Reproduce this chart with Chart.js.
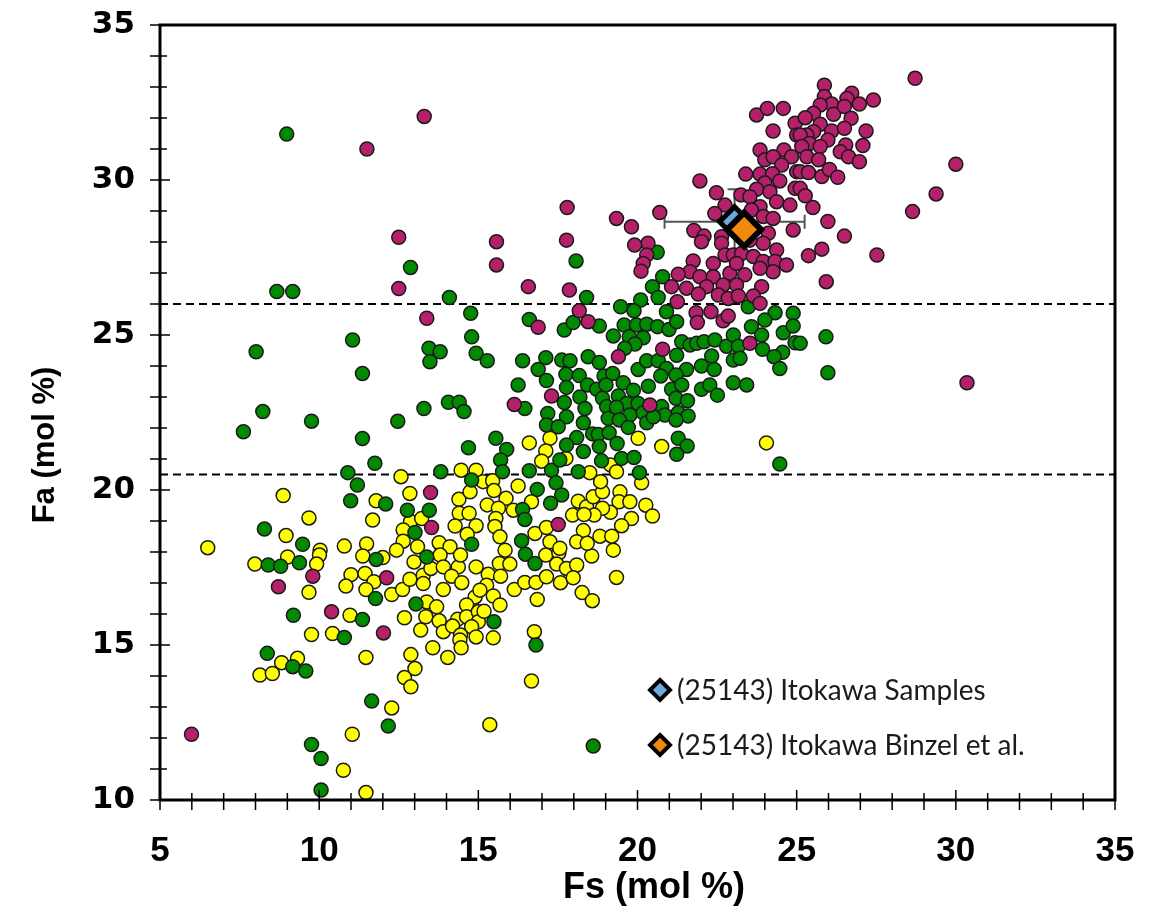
<!DOCTYPE html>
<html>
<head>
<meta charset="utf-8">
<script src="https://cdn.jsdelivr.net/npm/chart.js@4.4.0/dist/chart.umd.min.js"></script>
<style>
  body { margin: 0; background: #fff; }
  canvas { display: block; }
</style>
</head>
<body>
<canvas id="olivineChart" width="1153" height="912"></canvas>
<script>
// Fs (x) vs Fa (y), mol %
const hGroup = [
  [11.5, 31.0], [13.3, 32.05], [12.5, 28.15], [12.5, 26.5], [13.38, 25.54], [13.5, 19.92], [13.53, 18.79],
  [9.8, 17.22], [8.72, 16.88], [10.39, 16.07], [12.02, 15.39], [5.99, 12.12], [12.12, 17.17],
  [23.74, 32.1], [24.08, 32.31], [24.58, 32.31], [24.26, 31.58], [24.95, 31.83], [25.0, 31.45], [23.85, 30.97],
  [24.6, 30.97], [24.84, 30.75], [24.0, 30.65], [24.26, 30.75], [24.53, 30.48], [25.0, 30.27], [23.4, 30.19],
  [23.85, 30.19], [24.24, 30.2], [24.47, 29.97], [24.0, 29.9], [21.96, 29.97], [22.48, 29.59], [23.25, 29.52],
  [23.74, 29.7], [24.16, 29.62], [24.37, 29.3], [24.79, 29.19], [24.95, 29.73], [23.53, 29.46], [23.85, 29.14],
  [22.75, 29.19], [22.43, 28.92], [23.58, 29.03], [23.95, 28.82], [24.26, 28.76], [24.89, 28.39], [20.7, 28.95],
  [17.79, 29.11], [19.34, 28.76], [19.81, 28.49], [21.77, 28.37], [22.09, 28.19], [22.01, 28.01], [22.64, 28.17],
  [22.64, 27.96], [24.11, 28.28], [23.95, 27.96], [24.37, 27.74], [23.53, 28.06], [20.33, 27.96], [19.91, 27.9],
  [20.29, 27.58], [20.18, 27.31], [20.11, 27.06], [15.57, 28.01], [15.57, 27.26], [17.77, 28.06], [16.57, 26.56],
  [17.86, 26.45], [21.75, 27.39], [22.38, 27.31], [22.75, 27.58], [23.01, 27.58], [23.27, 27.63], [23.64, 27.53],
  [23.95, 27.37], [24.32, 27.37], [24.68, 27.26], [24.26, 27.04], [21.65, 27.04], [21.96, 26.88], [21.28, 26.96],
  [22.38, 26.88], [22.9, 26.99], [23.11, 27.31], [23.37, 26.94], [23.85, 27.15], [21.07, 26.56], [21.54, 26.51],
  [22.17, 26.56], [22.69, 26.61], [23.11, 26.61], [23.9, 26.56],
  [28.72, 33.28], [25.87, 33.06], [25.87, 32.69], [26.73, 32.8], [26.58, 32.63], [26.97, 32.45], [27.41, 32.58],
  [26.1, 32.45], [25.74, 32.42], [26.16, 32.12], [25.53, 32.15], [25.27, 32.01], [26.5, 32.37], [26.71, 31.99],
  [25.74, 31.8], [25.53, 31.56], [26.1, 31.58], [26.5, 31.67], [27.18, 31.58], [25.32, 31.45], [25.11, 31.45],
  [25.98, 31.29], [25.4, 31.18], [25.74, 31.08], [25.16, 31.08], [26.54, 31.13], [27.08, 31.11], [26.37, 30.91],
  [26.63, 30.75], [26.97, 30.59], [25.32, 30.75], [25.69, 30.65], [25.11, 30.27], [25.37, 30.24], [25.79, 30.11],
  [26.03, 30.34], [26.29, 30.09], [25.11, 29.73], [25.27, 29.49], [25.51, 29.11], [25.98, 28.66], [26.5, 28.19],
  [25.79, 27.77], [25.37, 27.56], [27.52, 27.58], [25.93, 26.72], [30.0, 30.51], [29.38, 29.55], [28.64, 28.98],
  [21.91, 26.32], [22.54, 26.29], [22.85, 26.18], [23.17, 26.26], [23.64, 26.26], [23.85, 26.02], [21.25, 26.07],
  [18.17, 25.78], [18.45, 25.43], [16.88, 25.25], [21.84, 25.72], [22.31, 25.75], [22.69, 25.46], [22.85, 25.61],
  [21.88, 25.4], [23.53, 24.73], [20.79, 24.54], [19.4, 24.3], [17.3, 23.03], [16.13, 22.76], [20.39, 22.74],
  [17.51, 18.89], [30.35, 23.46]
];

const lGroup = [
  [8.98, 31.48], [12.87, 27.18], [8.67, 26.4], [9.17, 26.4], [18.07, 27.39], [20.62, 27.67], [20.79, 26.88], [20.47, 26.56],
  [14.09, 26.21], [14.76, 25.7], [11.05, 24.84], [8.02, 24.46], [14.79, 24.94], [14.93, 24.41], [13.45, 24.57],
  [13.8, 24.46], [13.48, 24.14], [11.36, 23.76], [8.23, 22.53], [7.62, 21.88], [9.76, 22.22], [11.36, 21.66],
  [12.47, 22.22], [13.29, 22.63], [14.06, 22.83], [14.4, 22.83], [14.55, 22.53], [14.69, 21.36], [11.75, 20.86],
  [10.9, 20.56], [11.2, 20.16], [10.99, 19.65], [12.09, 19.55], [12.77, 19.35], [13.46, 19.35], [13.01, 18.63],
  [14.79, 20.32], [13.82, 20.59], [8.28, 18.74], [9.48, 18.25], [14.79, 18.25],
  [8.4, 17.58], [8.79, 17.54], [9.38, 17.65], [9.19, 15.96], [11.36, 15.82], [10.79, 15.24], [8.37, 14.73],
  [9.17, 14.3], [9.58, 14.16], [11.65, 13.19], [12.17, 12.39], [9.76, 11.79], [10.06, 11.34], [10.06, 10.32],
  [11.79, 17.76], [11.77, 16.5], [13.38, 17.84], [13.04, 16.32],
  [16.48, 17.93], [16.78, 17.63], [15.49, 15.75], [16.81, 15.0], [18.61, 11.74],
  [20.1, 26.13], [20.65, 26.21], [18.4, 26.21], [19.47, 25.91], [19.89, 25.78], [20.91, 25.75], [23.48, 25.91],
  [24.32, 25.72], [24.89, 25.7], [16.6, 25.5], [17.7, 25.16], [17.98, 25.4], [18.8, 25.29], [19.58, 25.32],
  [19.97, 25.32], [20.29, 25.35], [20.63, 25.27], [20.99, 25.18], [21.23, 25.43], [19.24, 24.97], [19.74, 24.94],
  [20.18, 24.91], [19.92, 24.71], [19.6, 24.57], [21.39, 24.78], [21.65, 24.68], [21.86, 24.73], [22.09, 24.78],
  [22.43, 24.84], [22.8, 24.64], [23.01, 25.0], [23.17, 24.64], [23.58, 25.27], [23.9, 25.0], [24.0, 25.48],
  [23.93, 24.54], [24.58, 25.07], [24.89, 25.29], [24.95, 24.75], [24.56, 24.44], [24.29, 24.3], [24.47, 23.92],
  [23.01, 24.19], [23.22, 24.25], [15.28, 24.17], [16.39, 24.17], [17.12, 24.27], [17.62, 24.19], [17.88, 24.17],
  [18.45, 24.3], [18.8, 24.11], [16.88, 23.89], [17.75, 23.73], [18.17, 23.69], [18.95, 23.68], [19.22, 23.76],
  [20.02, 23.89], [20.29, 24.17], [20.65, 24.17], [20.91, 23.92], [21.23, 24.35], [21.54, 23.89], [21.21, 23.71],
  [20.73, 23.68], [22.01, 24.0], [22.33, 24.32], [22.41, 23.89], [16.25, 23.39], [17.14, 23.53], [17.77, 23.31],
  [18.43, 23.39], [18.72, 23.25], [19.01, 23.39], [19.55, 23.46], [19.87, 23.22], [20.34, 23.35], [21.07, 23.25],
  [21.39, 23.39], [22.01, 23.25], [22.27, 23.39], [22.51, 23.06], [23.01, 23.46], [23.43, 23.39], [17.7, 22.82],
  [18.19, 23.0], [18.9, 22.96], [19.4, 23.03], [19.66, 22.79], [20.02, 22.79], [21.21, 22.96], [21.57, 22.88],
  [16.46, 22.63], [17.18, 22.47], [17.77, 22.36], [18.35, 22.63], [19.03, 22.69], [19.34, 22.67], [19.76, 22.42],
  [20.18, 22.49], [20.76, 22.69], [20.86, 22.42], [21.28, 22.49], [21.59, 22.39], [17.14, 22.1], [17.51, 22.04],
  [18.3, 22.17], [19.08, 22.31], [19.43, 22.26], [19.71, 22.02], [20.29, 22.17], [20.5, 22.36], [21.21, 22.26],
  [18.59, 21.81], [18.77, 21.79], [19.11, 21.85], [18.09, 21.69], [15.55, 21.67], [15.89, 21.31], [17.77, 21.45],
  [18.3, 21.24], [18.8, 21.4], [19.36, 21.5], [21.28, 21.67], [21.56, 21.42], [21.23, 21.15], [15.7, 20.97],
  [15.76, 20.59], [16.6, 20.62], [17.3, 20.64], [17.56, 20.97], [18.14, 20.59], [18.87, 20.94], [19.5, 21.02],
  [19.89, 21.05], [20.06, 20.56], [17.44, 20.23], [16.85, 20.02], [17.62, 19.84], [17.27, 19.57], [16.39, 19.37],
  [16.46, 19.05], [16.36, 18.36], [24.47, 20.84], [25.92, 24.94], [25.98, 23.78], [25.11, 24.73]
];

const llGroup = [
  [8.87, 19.82], [12.57, 20.43], [14.46, 20.64], [14.93, 20.64], [12.85, 19.89], [11.79, 19.65], [9.68, 19.1],
  [11.68, 19.03], [8.96, 18.53], [6.5, 18.14], [10.03, 18.06], [10.79, 18.19], [11.49, 18.26], [14.39, 19.7],
  [14.74, 19.94], [14.4, 19.25], [14.71, 19.25], [12.87, 18.98], [13.22, 19.08], [12.64, 18.71], [14.27, 18.84],
  [14.93, 18.85], [14.65, 18.57], [12.64, 18.35], [13.09, 18.17], [13.77, 18.3], [14.11, 18.17], [12.43, 18.06],
  [7.98, 17.61], [9.01, 17.84], [10.01, 17.9], [9.92, 17.61], [9.68, 16.7], [10.97, 15.96], [9.76, 15.34],
  [10.42, 15.37], [11.47, 14.6], [8.82, 14.43], [9.32, 14.57], [8.14, 14.03], [8.53, 14.08], [12.88, 14.69],
  [13.01, 14.24], [12.68, 13.95], [12.88, 13.65], [12.28, 12.97], [11.04, 12.12], [10.76, 10.96], [11.47, 10.24],
  [11.37, 17.87], [12.0, 17.82], [11.0, 17.27], [11.44, 17.31], [11.72, 17.04], [10.84, 16.9], [11.47, 16.79],
  [12.28, 16.63], [12.62, 16.79], [12.85, 17.12], [12.98, 17.68], [13.27, 17.25], [13.27, 16.98], [13.8, 17.9],
  [13.51, 17.47], [13.9, 17.52], [14.37, 17.52], [14.44, 17.9], [14.16, 17.22], [14.93, 17.52], [14.48, 17.01],
  [13.9, 16.79], [14.9, 16.55], [13.38, 16.39], [13.69, 16.23], [14.63, 16.29], [12.68, 15.88], [13.35, 15.91],
  [13.77, 15.78], [14.35, 15.83], [14.63, 15.91], [15.0, 16.07], [15.0, 15.75], [13.19, 15.48], [13.9, 15.43],
  [14.19, 15.61], [14.79, 15.59], [14.44, 15.32], [14.93, 15.26], [14.42, 15.16], [13.57, 14.91], [14.04, 14.6],
  [14.46, 14.91],
  [15.84, 18.06], [17.12, 17.9], [17.53, 17.97], [17.46, 17.61], [17.77, 17.47], [18.09, 17.58], [18.56, 17.87],
  [19.24, 18.06], [19.34, 17.18], [15.31, 17.28], [15.66, 17.63], [15.99, 17.61], [15.7, 17.22], [15.26, 16.93],
  [15.05, 16.77], [15.47, 16.58], [15.68, 16.29], [16.13, 16.79], [16.46, 17.02], [16.81, 17.02], [17.14, 17.2],
  [17.58, 17.01], [17.98, 17.17], [18.26, 16.69], [18.58, 16.43], [16.85, 16.47], [15.18, 16.09], [15.47, 15.23],
  [16.76, 15.43], [16.67, 13.84], [15.36, 12.43],
  [16.6, 21.52], [17.25, 21.67], [17.12, 21.26], [16.99, 20.93], [17.75, 21.02], [20.02, 21.67], [20.76, 21.4],
  [24.05, 21.52], [19.15, 20.81], [19.34, 20.59], [18.5, 20.56], [20.13, 20.23], [15.15, 20.27], [15.45, 20.3],
  [15.49, 19.98], [16.25, 20.13], [15.87, 19.73], [15.28, 19.52], [15.63, 19.41], [16.1, 19.35], [16.67, 19.62],
  [15.55, 19.08], [15.52, 18.82], [15.68, 18.49], [16.78, 18.6], [17.14, 18.79], [17.25, 18.33], [17.56, 18.12],
  [18.14, 19.64], [18.4, 19.46], [18.61, 19.78], [18.9, 19.94], [18.84, 20.27], [19.45, 19.94], [19.42, 19.62],
  [19.76, 19.62], [20.26, 19.51], [20.47, 19.16], [19.15, 19.28], [18.9, 19.41], [18.64, 19.19], [17.96, 19.19],
  [18.32, 19.21], [19.81, 19.08], [19.5, 18.85], [18.3, 18.69], [18.82, 18.51], [19.19, 18.51], [18.09, 18.33],
  [18.42, 18.28]
];

const itokawaSamples = [[23.05, 28.65]];
const itokawaSamplesErr = [[2.2, 1.05]]; // +/- x, +/- y
const itokawaBinzel = [[23.35, 28.4]];
const boundaryLines = [26, 20.5];
const xTicks = [5, 10, 15, 20, 25, 30, 35];
const yTicks = [10, 15, 20, 25, 30, 35];
const xTitle = 'Fs (mol %)';
const yTitle = 'Fa (mol %)';
const legendLabels = ['(25143) Itokawa Samples', '(25143) Itokawa Binzel et al.'];

const toXY = arr => arr.map(p => ({x: p[0], y: p[1]}));

// keep label overhang from shrinking the plot box
const noPad = s => { s.paddingTop = 0; s.paddingBottom = 0; s.paddingLeft = 0; s.paddingRight = 0; };

function drawDiamond(ctx, cx, cy, r, fill) {
    ctx.beginPath();
    ctx.moveTo(cx, cy - r);
    ctx.lineTo(cx + r, cy);
    ctx.lineTo(cx, cy + r);
    ctx.lineTo(cx - r, cy);
    ctx.closePath();
    ctx.fillStyle = fill;
    ctx.fill();
    ctx.lineWidth = 4;
    ctx.strokeStyle = '#000';
    ctx.stroke();
}

const extras = {
    id: 'extras',
    beforeDatasetsDraw(chart) {
        const {ctx, chartArea: a, scales: {x, y}} = chart;
        ctx.save();
        // dashed boundary lines
        ctx.setLineDash([8, 5]);
        ctx.lineWidth = 2;
        ctx.strokeStyle = '#000';
        boundaryLines.forEach(v => {
            const py = y.getPixelForValue(v);
            ctx.beginPath();
            ctx.moveTo(a.left, py);
            ctx.lineTo(a.right, py);
            ctx.stroke();
        });
        ctx.setLineDash([]);
        // error bars
        ctx.strokeStyle = '#555';
        ctx.lineWidth = 2;
        itokawaSamples.forEach((p, i) => {
            const [ex, ey] = itokawaSamplesErr[i];
            const cx = x.getPixelForValue(p[0]), cy = y.getPixelForValue(p[1]);
            const x0 = x.getPixelForValue(p[0] - ex), x1 = x.getPixelForValue(p[0] + ex);
            const y0 = y.getPixelForValue(p[1] + ey), y1 = y.getPixelForValue(p[1] - ey);
            ctx.beginPath();
            ctx.moveTo(x0, cy); ctx.lineTo(x1, cy);
            ctx.moveTo(x0, cy - 7); ctx.lineTo(x0, cy + 7);
            ctx.moveTo(x1, cy - 7); ctx.lineTo(x1, cy + 7);
            ctx.moveTo(cx, y0); ctx.lineTo(cx, y1);
            ctx.moveTo(cx - 7, y0); ctx.lineTo(cx + 7, y0);
            ctx.moveTo(cx - 7, y1); ctx.lineTo(cx + 7, y1);
            ctx.stroke();
        });
        ctx.restore();
    },
    afterDraw(chart) {
        const {ctx, chartArea: a, scales: {x, y}} = chart;
        ctx.save();
        // frame
        ctx.strokeStyle = '#000';
        ctx.lineWidth = 3;
        ctx.strokeRect(a.left, a.top, a.right - a.left, a.bottom - a.top);
        // tick marks, one per unit
        ctx.lineWidth = 1.5;
        ctx.beginPath();
        for (let v = 10; v <= 35; v++) {
            const py = y.getPixelForValue(v);
            const major = v % 5 === 0;
            ctx.moveTo(a.left - 10, py);
            ctx.lineTo(a.left + (major ? 10 : 7), py);
        }
        for (let v = 5; v <= 35; v++) {
            const px = x.getPixelForValue(v);
            const major = v % 5 === 0;
            ctx.moveTo(px, a.bottom - (major ? 10 : 7));
            ctx.lineTo(px, a.bottom + 10);
        }
        ctx.stroke();
        // axis titles
        ctx.fillStyle = '#000';
        ctx.textAlign = 'center';
        ctx.textBaseline = 'middle';
        ctx.font = 'bold 36px "Liberation Sans", Arial, sans-serif';
        ctx.fillText(xTitle, 654, 888);
        ctx.save();
        ctx.translate(45, 445);
        ctx.rotate(-Math.PI / 2);
        ctx.font = 'bold 31px "Liberation Sans", Arial, sans-serif';
        ctx.fillText(yTitle, 0, 0);
        ctx.restore();
        // legend
        const fills = ['#6fa8dc', '#f08a0c'];
        ctx.textAlign = 'left';
        ctx.font = '28px Lato, "Open Sans", sans-serif';
        legendLabels.forEach((txt, i) => {
            const ly = 690 + i * 55;
            drawDiamond(ctx, 660, ly, 10, fills[i]);
            ctx.fillStyle = '#1a1a1a';
            ctx.fillText(txt, 677, ly + 1);
        });
        ctx.restore();
    }
};

const pointStyle = (color) => ({
    backgroundColor: color,
    borderColor: '#1a1a1a',
    borderWidth: 1.5,
    pointRadius: 7,
    pointHoverRadius: 7
});

new Chart(document.getElementById('olivineChart'), {
    type: 'scatter',
    data: {
        datasets: [
            {label: legendLabels[1], data: toXY(itokawaBinzel), order: 0, pointStyle: 'rectRot',
                backgroundColor: '#f08a0c', borderColor: '#000', borderWidth: 6, pointRadius: 17},
            {label: legendLabels[0], data: toXY(itokawaSamples), order: 1, pointStyle: 'rectRot',
                backgroundColor: '#6fa8dc', borderColor: '#000', borderWidth: 5, pointRadius: 15},
            {label: 'H', data: toXY(hGroup), order: 2, ...pointStyle('#b5206b')},
            {label: 'L', data: toXY(lGroup), order: 3, ...pointStyle('#008a00')},
            {label: 'LL', data: toXY(llGroup), order: 4, ...pointStyle('#ffff00')}
        ]
    },
    options: {
        responsive: false,
        animation: false,
        events: [],
        layout: {padding: {top: 25, right: 38, left: 0, bottom: 0}},
        plugins: {legend: {display: false}, tooltip: {enabled: false}},
        scales: {
            x: {
                type: 'linear', min: 5, max: 35,
                afterBuildTicks: s => { s.ticks = xTicks.map(v => ({value: v})); },
                afterFit: s => { s.height = 112; noPad(s); },
                grid: {display: false, drawTicks: false},
                border: {display: false},
                ticks: {
                    padding: 30, maxRotation: 0, color: '#000',
                    font: {family: '"Liberation Sans", Arial', weight: 'bold', size: 35}
                }
            },
            y: {
                type: 'linear', min: 10, max: 35,
                afterBuildTicks: s => { s.ticks = yTicks.map(v => ({value: v})); },
                afterFit: s => { s.width = 160; noPad(s); },
                grid: {display: false, drawTicks: false},
                border: {display: false},
                ticks: {
                    padding: 25, color: '#000',
                    font: {family: '"DejaVu Sans", Verdana, sans-serif', weight: 'bold', size: 31}
                }
            }
        }
    },
    plugins: [extras]
});
</script>
</body>
</html>
